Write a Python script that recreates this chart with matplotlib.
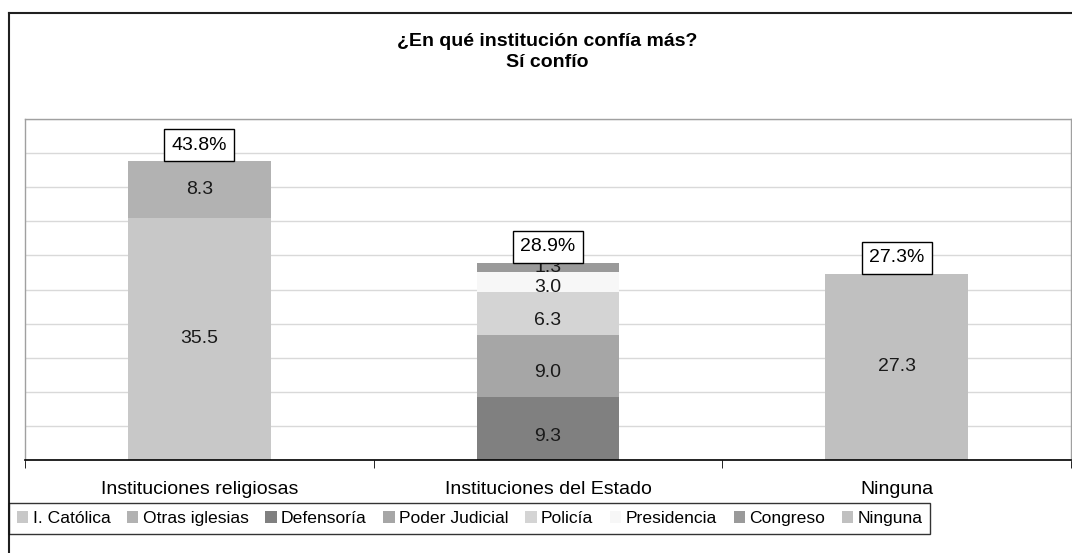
import matplotlib
matplotlib.use("Agg")
from matplotlib import pyplot as plt
from matplotlib.lines import Line2D
import numpy as np

plt.rcParams['font.family'] = ['Liberation Sans', 'DejaVu Sans']

# data
categories = ["Instituciones religiosas", "Instituciones del Estado", "Ninguna"]
series_names = ["I. Católica", "Otras iglesias", "Defensoría", "Poder Judicial",
                "Policía", "Presidencia", "Congreso", "Ninguna"]
catolica = [35.5, 0, 0]
otras_iglesias = [8.3, 0, 0]
defensoria = [0, 9.3, 0]
poder_judicial = [0, 9.0, 0]
policia = [0, 6.3, 0]
presidencia = [0, 3.0, 0]
congreso = [0, 1.3, 0]
ninguna = [0, 0, 27.3]
totals = [43.8, 28.9, 27.3]
total_labels = ["43.8%", "28.9%", "27.3%"]

series = [catolica, otras_iglesias, defensoria, poder_judicial,
          policia, presidencia, congreso, ninguna]
colors = ["#c8c8c8", "#b2b2b2", "#808080", "#a6a6a6",
          "#d4d4d4", "#f7f7f7", "#9a9a9a", "#c0c0c0"]
# small downward nudge of the segment labels (points), like excel does
label_dy = [0, 0, -6, -5, -5, -4, 0, 0]

W, H = 1072, 553
fig = plt.figure(figsize=(W / 100, H / 100), dpi=100)
ax = fig.add_axes([25 / W, 1 - 460 / H, (1071 - 25) / W, (460 - 119) / H])

x = np.arange(len(categories))
bottom = np.zeros(len(categories))
handles = []
for name, vals, col, dy in zip(series_names, series, colors, label_dy):
    vals = np.array(vals, dtype=float)
    bars = ax.bar(x, vals, width=0.41, bottom=bottom, color=col,
                  edgecolor="none", label=name, zorder=2)
    handles.append(bars)
    for xi, v, b in zip(x, vals, bottom):
        if v > 0:
            ax.annotate(f"{v:.1f}", (xi, b + v / 2), xytext=(0, dy),
                        textcoords="offset points", ha="center", va="center",
                        fontsize=14, color="#1a1a1a", zorder=4)
    bottom += vals

for xi, t, lab in zip(x, totals, total_labels):
    ax.annotate(lab, (xi, t), xytext=(0, 5.5), textcoords="offset points",
                ha="center", va="bottom", fontsize=14, zorder=5,
                bbox=dict(boxstyle="square,pad=0.38", fc="white", ec="black", lw=1))

ax.set_xlim(-0.5, 2.5)
ax.set_ylim(0, 50)
ax.set_yticks(np.arange(0, 51, 5))
ax.yaxis.grid(True, color="#d9d9d9", lw=1, zorder=0)
ax.tick_params(axis="y", length=0, labelleft=False)
ax.set_xticks(x)
ax.set_xticklabels(categories, fontsize=14)
ax.set_xticks(np.arange(-0.5, 3, 1), minor=True)
ax.tick_params(axis="x", which="major", length=0, pad=15)
ax.tick_params(axis="x", which="minor", length=6, direction="out", color="black")
for s in ["top", "left", "right"]:
    ax.spines[s].set_color("#a0a0a0")
    ax.spines[s].set_linewidth(1)
ax.spines["bottom"].set_color("black")
ax.spines["bottom"].set_linewidth(1.2)

fig.text(547 / W, 1 - 52 / H, "¿En qué institución confía más?\nSí confío",
         ha="center", va="center", fontsize=14, fontweight="bold",
         linespacing=1.3)

leg = fig.legend(handles=handles, labels=series_names, ncol=8,
                 loc="upper left", bbox_to_anchor=(9 / W, 1 - 503 / H),
                 fontsize=12.6, frameon=True, fancybox=False,
                 handlelength=0.65, handleheight=0.65, handletextpad=0.25,
                 columnspacing=0.95, borderpad=0.45, borderaxespad=0)
leg.get_frame().set_edgecolor("black")
leg.get_frame().set_linewidth(1)

# outer chart frame (cut off at right and bottom)
fig.add_artist(Line2D([9 / W, 1], [1 - 13 / H, 1 - 13 / H], color="#202020", lw=1.5))
fig.add_artist(Line2D([9 / W, 9 / W], [0, 1 - 13 / H], color="#202020", lw=1.5))

fig.savefig("out.png", dpi=100)
